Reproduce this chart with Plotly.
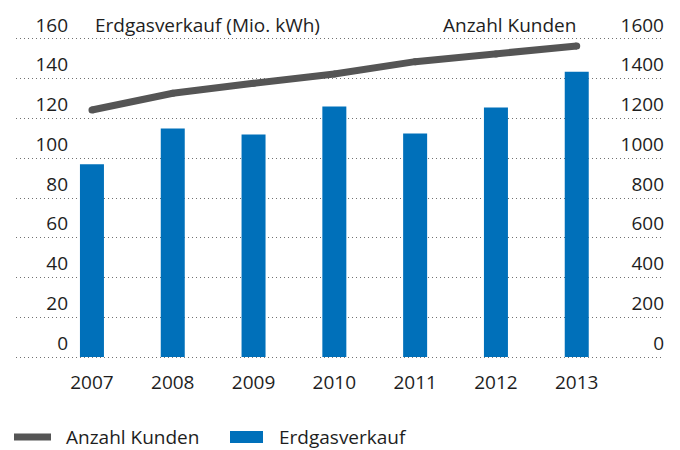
import plotly.graph_objects as go

years = ["2007", "2008", "2009", "2010", "2011", "2012", "2013"]
erdgas = [97, 115, 112, 126, 112.5, 125.5, 143.5]          # Mio. kWh (left axis)
kunden = [1243, 1327, 1377, 1424, 1486, 1525, 1565]         # Anzahl Kunden (right axis)
left_ticks = [0, 20, 40, 60, 80, 100, 120, 140, 160]
right_ticks = [0, 200, 400, 600, 800, 1000, 1200, 1400, 1600]

BLUE = "#0070BA"
GREY = "#555555"
TXT = "#1e1e1e"
FONT = "Open Sans"
FS = 19

# page body has an 8px margin -> figure is drawn 8px right/down of the page origin
OFF = 8
FIG_W, FIG_H = 680 - OFF, 450 - OFF
# plot area in page pixels
PX0, PX1, PY0, PY1 = 16, 664, 37, 359
PW, PH = PX1 - PX0, PY1 - PY0


def pxx(x):
    return (x - PX0) / PW


def pxy(y):
    return (PY1 - y) / PH


fig = go.Figure()
fig.add_trace(go.Bar(x=years, y=erdgas, name="Erdgasverkauf", marker_color=BLUE,
                     marker_line_width=0, width=0.297, showlegend=False, yaxis="y"))
fig.add_trace(go.Scatter(x=years, y=kunden, name="Anzahl Kunden", mode="lines+markers",
                         line=dict(color=GREY, width=7), marker=dict(color=GREY, size=7),
                         showlegend=False, yaxis="y2"))

fig.update_layout(
    template="none",
    width=FIG_W, height=FIG_H,
    margin=dict(l=PX0 - OFF, r=FIG_W - (PX1 - OFF), t=PY0 - OFF, b=FIG_H - (PY1 - OFF),
                pad=0, autoexpand=False),
    paper_bgcolor="white", plot_bgcolor="white",
    font=dict(family=FONT, size=FS, color=TXT),
    xaxis=dict(type="category", range=[-0.94, 7.08], showgrid=False, zeroline=False,
               showline=False, ticks="", ticklabelstandoff=10, automargin=False,
               tickfont=dict(family=FONT, size=FS, color=TXT)),
    yaxis=dict(range=[-1, 161], tickvals=left_ticks, showgrid=True, gridcolor="#707070",
               griddash="1px,3px", gridwidth=1, zeroline=False, showline=False, ticks="",
               ticklabelposition="outside", ticklabelstandoff=-53, ticklabelshift=-14,
               automargin=False, tickfont=dict(family=FONT, size=FS, color=TXT)),
    yaxis2=dict(range=[-10, 1610], tickvals=right_ticks, overlaying="y", side="left",
                anchor="free", position=1,
                showgrid=False, zeroline=False, showline=False, ticks="",
                ticklabelposition="outside", ticklabelstandoff=0, ticklabelshift=-14,
                automargin=False, tickfont=dict(family=FONT, size=FS, color=TXT)),
    showlegend=False,
)

# axis titles
fig.add_annotation(text="Erdgasverkauf (Mio. kWh)", xref="paper", yref="paper",
                   x=pxx(93), y=pxy(25), xanchor="left", yanchor="middle",
                   showarrow=False, font=dict(family=FONT, size=FS, color=TXT))
fig.add_annotation(text="Anzahl Kunden", xref="paper", yref="paper",
                   x=pxx(578), y=pxy(25), xanchor="right", yanchor="middle",
                   showarrow=False, font=dict(family=FONT, size=FS, color=TXT))

# custom legend (kept just inside the bottom edge so the text is not clipped)
LEG_Y = 437
fig.add_shape(type="line", xref="paper", yref="paper",
              x0=pxx(14), x1=pxx(51), y0=pxy(LEG_Y), y1=pxy(LEG_Y),
              line=dict(color=GREY, width=7))
fig.add_shape(type="rect", xref="paper", yref="paper",
              x0=pxx(230), x1=pxx(263), y0=pxy(LEG_Y + 6), y1=pxy(LEG_Y - 6),
              fillcolor=BLUE, line_width=0)
fig.add_annotation(text="Anzahl Kunden", xref="paper", yref="paper",
                   x=pxx(64), y=pxy(LEG_Y), xanchor="left", yanchor="middle",
                   showarrow=False, font=dict(family=FONT, size=FS, color=TXT))
fig.add_annotation(text="Erdgasverkauf", xref="paper", yref="paper",
                   x=pxx(277), y=pxy(LEG_Y), xanchor="left", yanchor="middle",
                   showarrow=False, font=dict(family=FONT, size=FS, color=TXT))

fig.write_html("out.html")
